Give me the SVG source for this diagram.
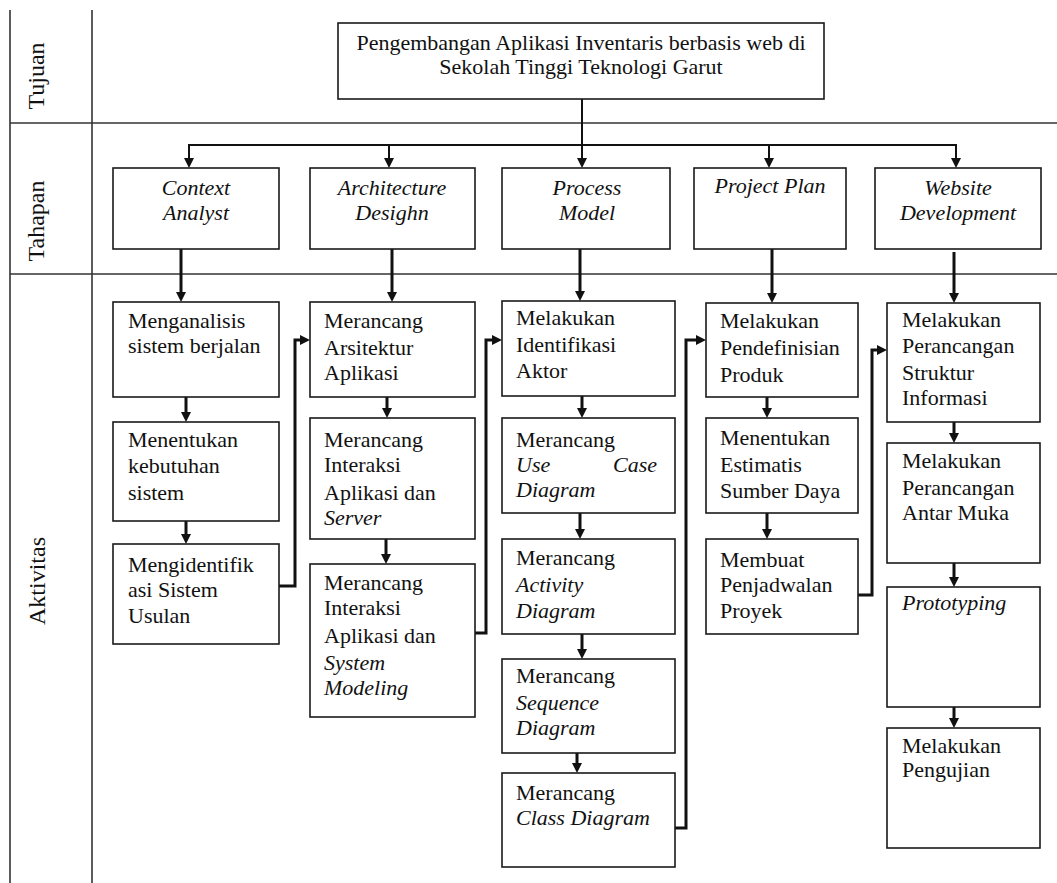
<svg xmlns="http://www.w3.org/2000/svg" width="1057" height="883" viewBox="0 0 1057 883">
  <style>
    text { font-family: "Liberation Serif", "Times New Roman", serif; font-size: 22px; fill: #111; }
    .it { font-style: italic; }
    .mid { text-anchor: middle; }
    .lbl { font-size: 24px; text-anchor: middle; }
    .grid { stroke: #333; stroke-width: 1.6; fill: none; }
    .box { fill: #fff; stroke: #1a1a1a; stroke-width: 1.6; }
    .thin { stroke: #111; stroke-width: 2; fill: none; }
    .thick { stroke: #111; stroke-width: 3; fill: none; }
  </style>
  <defs>
    <marker id="arrow" markerUnits="userSpaceOnUse" markerWidth="10" markerHeight="10" viewBox="0 0 10 10" refX="4" refY="5" orient="auto">
      <path d="M0,0 L10,5 L0,10 z" fill="#111"/>
    </marker>
  </defs>

  <rect width="1057" height="883" fill="#fff"/>

  <!-- swimlane frame -->
  <g id="lanes">
    <line class="grid" x1="10" y1="10" x2="10" y2="883"/>
    <line class="grid" x1="92" y1="10" x2="92" y2="883"/>
    <line class="grid" x1="10" y1="123" x2="1057" y2="123"/>
    <line class="grid" x1="10" y1="274" x2="1057" y2="274"/>
    <text class="lbl" x="44" y="76" transform="rotate(-90 44 76)">Tujuan</text>
    <text class="lbl" x="44" y="221" transform="rotate(-90 44 221)">Tahapan</text>
    <text class="lbl" x="45" y="581" transform="rotate(-90 45 581)">Aktivitas</text>
  </g>

  <!-- connectors -->
  <g id="connectors" marker-end="url(#arrow)">
    <line class="thin" x1="582" y1="99" x2="582" y2="146" marker-end="none"/>
    <line class="thin" x1="188" y1="145" x2="957" y2="145" marker-end="none"/>
    <line class="thin" x1="189" y1="145" x2="189" y2="162" marker-end="url(#arrow)"/>
    <line class="thin" x1="389" y1="145" x2="389" y2="162" marker-end="url(#arrow)"/>
    <line class="thin" x1="582" y1="145" x2="582" y2="162" marker-end="url(#arrow)"/>
    <line class="thin" x1="769" y1="145" x2="769" y2="162" marker-end="url(#arrow)"/>
    <line class="thin" x1="956" y1="145" x2="956" y2="162" marker-end="url(#arrow)"/>

    <line class="thick" x1="181" y1="249" x2="181" y2="296" marker-end="url(#arrow)"/>
    <line class="thick" x1="392" y1="249" x2="392" y2="296" marker-end="url(#arrow)"/>
    <line class="thick" x1="580" y1="249" x2="580" y2="295" marker-end="url(#arrow)"/>
    <line class="thick" x1="772" y1="249" x2="772" y2="297" marker-end="url(#arrow)"/>
    <line class="thick" x1="954" y1="252" x2="954" y2="297" marker-end="url(#arrow)"/>

    <line class="thick" x1="186" y1="397" x2="186" y2="416" marker-end="url(#arrow)"/>
    <line class="thick" x1="186" y1="521" x2="186" y2="538" marker-end="url(#arrow)"/>
    <line class="thick" x1="387" y1="397" x2="387" y2="412" marker-end="url(#arrow)"/>
    <line class="thick" x1="386" y1="539" x2="386" y2="558" marker-end="url(#arrow)"/>
    <line class="thick" x1="582" y1="396" x2="582" y2="412" marker-end="url(#arrow)"/>
    <line class="thick" x1="580" y1="513" x2="580" y2="533" marker-end="url(#arrow)"/>
    <line class="thick" x1="582" y1="634" x2="582" y2="653" marker-end="url(#arrow)"/>
    <line class="thick" x1="577" y1="753" x2="577" y2="767" marker-end="url(#arrow)"/>
    <line class="thick" x1="767" y1="397" x2="767" y2="412" marker-end="url(#arrow)"/>
    <line class="thick" x1="767" y1="513" x2="767" y2="533" marker-end="url(#arrow)"/>
    <line class="thick" x1="954" y1="422" x2="954" y2="437" marker-end="url(#arrow)"/>
    <line class="thick" x1="954" y1="563" x2="954" y2="581" marker-end="url(#arrow)"/>
    <line class="thick" x1="954" y1="707" x2="954" y2="722" marker-end="url(#arrow)"/>

    <path class="thick" d="M279,586 H295 V340 H304" marker-end="url(#arrow)"/>
    <path class="thick" d="M475,633 H486 V340 H496" marker-end="url(#arrow)"/>
    <path class="thick" d="M675,828 H686 V340 H700" marker-end="url(#arrow)"/>
    <path class="thick" d="M858,595 H872 V350 H881" marker-end="url(#arrow)"/>
  </g>

  <!-- goal -->
  <g id="tujuan">
    <rect class="box" x="338" y="23" width="486" height="76"/>
    <text class="mid" x="581" y="50">Pengembangan Aplikasi Inventaris berbasis web di</text>
    <text class="mid" x="581" y="74">Sekolah Tinggi Teknologi Garut</text>
  </g>

  <!-- stages -->
  <g id="context-analyst">
    <rect class="box" x="113" y="168" width="166" height="81"/>
    <text class="it mid" x="196" y="195">Context</text>
    <text class="it mid" x="196" y="220">Analyst</text>
  </g>
  <g id="architecture-desighn">
    <rect class="box" x="310" y="168" width="165" height="81"/>
    <text class="it mid" x="392" y="195">Architecture</text>
    <text class="it mid" x="392" y="220">Desighn</text>
  </g>
  <g id="process-model">
    <rect class="box" x="502" y="168" width="168" height="81"/>
    <text class="it mid" x="587" y="195">Process</text>
    <text class="it mid" x="587" y="220">Model</text>
  </g>
  <g id="project-plan">
    <rect class="box" x="694" y="168" width="152" height="81"/>
    <text class="it mid" x="770" y="193">Project Plan</text>
  </g>
  <g id="website-development">
    <rect class="box" x="875" y="168" width="166" height="81"/>
    <text class="it mid" x="958" y="195">Website</text>
    <text class="it mid" x="958" y="220">Development</text>
  </g>

  <!-- Context Analyst activities -->
  <g id="a1">
    <rect class="box" x="113" y="302" width="166" height="95"/>
    <text x="128" y="328">Menganalisis</text>
    <text x="128" y="353">sistem berjalan</text>
  </g>
  <g id="a2">
    <rect class="box" x="113" y="422" width="166" height="99"/>
    <text x="128" y="447">Menentukan</text>
    <text x="128" y="473">kebutuhan</text>
    <text x="128" y="500">sistem</text>
  </g>
  <g id="a3">
    <rect class="box" x="113" y="544" width="166" height="100"/>
    <text x="128" y="572">Mengidentifik</text>
    <text x="128" y="597">asi Sistem</text>
    <text x="128" y="623">Usulan</text>
  </g>

  <!-- Architecture Desighn activities -->
  <g id="b1">
    <rect class="box" x="310" y="302" width="165" height="95"/>
    <text x="324" y="328">Merancang</text>
    <text x="324" y="355">Arsitektur</text>
    <text x="324" y="380">Aplikasi</text>
  </g>
  <g id="b2">
    <rect class="box" x="310" y="418" width="165" height="121"/>
    <text x="324" y="447">Merancang</text>
    <text x="324" y="472">Interaksi</text>
    <text x="324" y="500">Aplikasi dan</text>
    <text class="it" x="324" y="525">Server</text>
  </g>
  <g id="b3">
    <rect class="box" x="310" y="564" width="165" height="153"/>
    <text x="324" y="590">Merancang</text>
    <text x="324" y="615">Interaksi</text>
    <text x="324" y="643">Aplikasi dan</text>
    <text class="it" x="324" y="670">System</text>
    <text class="it" x="324" y="695">Modeling</text>
  </g>

  <!-- Process Model activities -->
  <g id="c1">
    <rect class="box" x="502" y="301" width="173" height="95"/>
    <text x="516" y="325">Melakukan</text>
    <text x="516" y="352">Identifikasi</text>
    <text x="516" y="378">Aktor</text>
  </g>
  <g id="c2">
    <rect class="box" x="502" y="418" width="173" height="95"/>
    <text x="516" y="447">Merancang</text>
    <text class="it" x="516" y="472">Use</text>
    <text class="it" x="657" y="472" text-anchor="end">Case</text>
    <text class="it" x="516" y="497">Diagram</text>
  </g>
  <g id="c3">
    <rect class="box" x="502" y="539" width="173" height="95"/>
    <text x="516" y="565">Merancang</text>
    <text class="it" x="516" y="592">Activity</text>
    <text class="it" x="516" y="618">Diagram</text>
  </g>
  <g id="c4">
    <rect class="box" x="502" y="659" width="173" height="94"/>
    <text x="516" y="683">Merancang</text>
    <text class="it" x="516" y="710">Sequence</text>
    <text class="it" x="516" y="735">Diagram</text>
  </g>
  <g id="c5">
    <rect class="box" x="502" y="773" width="173" height="94"/>
    <text x="516" y="800">Merancang</text>
    <text class="it" x="516" y="825">Class Diagram</text>
  </g>

  <!-- Project Plan activities -->
  <g id="d1">
    <rect class="box" x="706" y="303" width="152" height="94"/>
    <text x="720" y="328">Melakukan</text>
    <text x="720" y="355">Pendefinisian</text>
    <text x="720" y="382">Produk</text>
  </g>
  <g id="d2">
    <rect class="box" x="706" y="418" width="152" height="95"/>
    <text x="720" y="445">Menentukan</text>
    <text x="720" y="472">Estimatis</text>
    <text x="720" y="498">Sumber Daya</text>
  </g>
  <g id="d3">
    <rect class="box" x="706" y="539" width="152" height="95"/>
    <text x="720" y="567">Membuat</text>
    <text x="720" y="592">Penjadwalan</text>
    <text x="720" y="618">Proyek</text>
  </g>

  <!-- Website Development activities -->
  <g id="e1">
    <rect class="box" x="887" y="303" width="153" height="119"/>
    <text x="902" y="327">Melakukan</text>
    <text x="902" y="353">Perancangan</text>
    <text x="902" y="380">Struktur</text>
    <text x="902" y="405">Informasi</text>
  </g>
  <g id="e2">
    <rect class="box" x="887" y="443" width="153" height="120"/>
    <text x="902" y="468">Melakukan</text>
    <text x="902" y="495">Perancangan</text>
    <text x="902" y="520">Antar Muka</text>
  </g>
  <g id="e3">
    <rect class="box" x="887" y="587" width="153" height="120"/>
    <text class="it" x="902" y="610">Prototyping</text>
  </g>
  <g id="e4">
    <rect class="box" x="887" y="728" width="153" height="120"/>
    <text x="902" y="753">Melakukan</text>
    <text x="902" y="777">Pengujian</text>
  </g>
</svg>
